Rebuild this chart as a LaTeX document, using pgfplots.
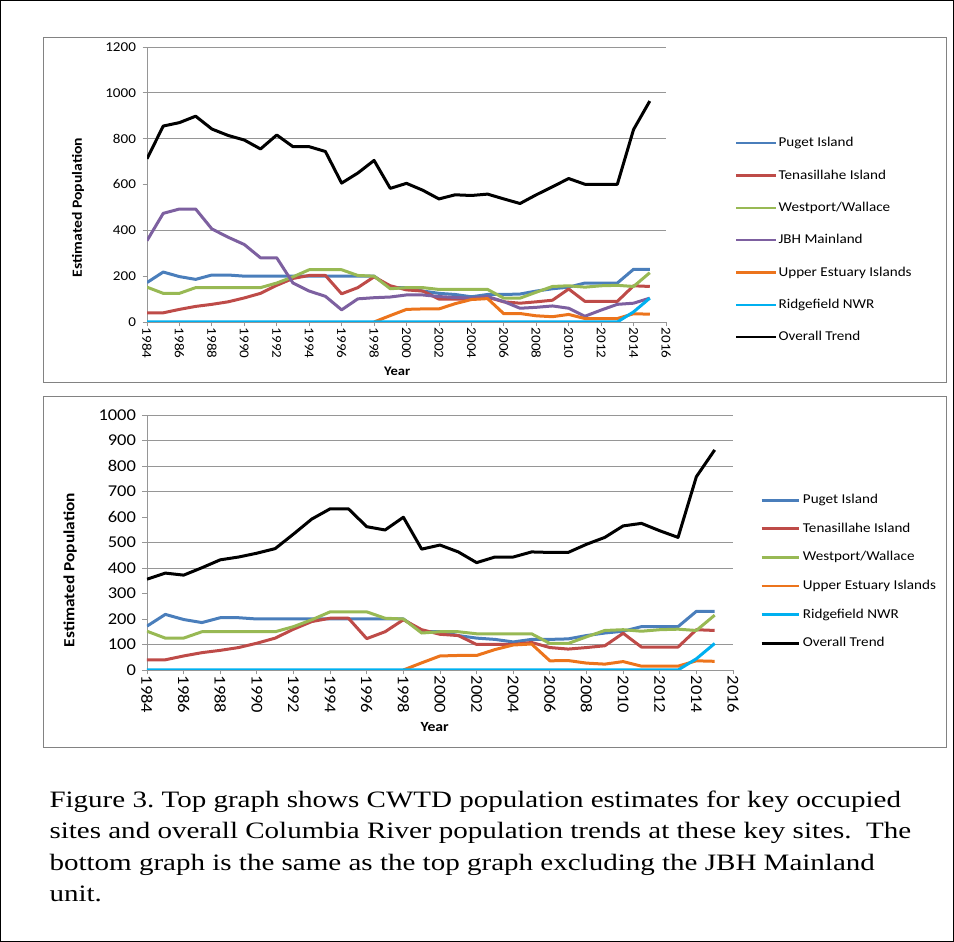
\documentclass[border=0pt]{standalone}
\usepackage{fontspec}
\usepackage{pgfplots}
\usepackage{pgfplotstable}
\pgfplotsset{compat=1.18}
\setmainfont{Liberation Serif}
\newfontfamily\cf[FakeStretch=1.12]{Carlito}
\newfontfamily\capfont[FakeStretch=1.235]{Liberation Serif}
\definecolor{cpuget}{RGB}{74,126,187}
\definecolor{ctena}{RGB}{190,75,72}
\definecolor{cwest}{RGB}{152,185,84}
\definecolor{cjbh}{RGB}{125,96,160}
\definecolor{cupper}{RGB}{236,116,28}
\definecolor{cridge}{RGB}{0,176,240}
\definecolor{gridgray}{RGB}{150,150,150}
\definecolor{boxgray}{RGB}{130,130,130}

\pgfplotstableread{
year puget tena west jbh upper ridge overall overallb
1984 172 40 152 355 nan 0 712 356
1985 218 40 125 474 nan 0 855 380
1986 198 55 125 493 nan 0 870 372
1987 186 68 150 493 nan 0 898 401
1988 205 77 150 406 nan 0 842 432
1989 205 88 150 370 nan 0 814 443
1990 200 105 150 338 nan 0 794 458
1991 200 125 150 280 nan 0 755 476
1992 200 160 170 280 nan 0 816 533
1993 200 190 197 170 nan 0 765 592
1994 200 203 228 135 nan 0 765 632
1995 200 203 228 112 nan 0 744 632
1996 200 123 228 53 nan 0 606 562
1997 200 150 203 101 nan 0 650 549
1998 200 197 200 106 0 0 705 599
1999 150 158 145 109 28 0 583 474
2000 150 140 150 118 55 0 605 490
2001 135 135 150 118 57 0 575 463
2002 125 100 142 111 57 0 537 421
2003 120 100 142 107 80 0 555 443
2004 110 100 142 104 98 0 552 443
2005 120 108 142 111 102 0 558 463
2006 120 88 104 89 36 0 537 461
2007 122 82 104 60 37 0 517 461
2008 135 88 130 64 27 0 555 493
2009 145 95 155 70 23 0 590 520
2010 152 144 158 60 33 0 626 565
2011 170 90 152 25 15 0 601 575
2012 170 90 158 52 15 0 601 546
2013 170 90 160 77 15 0 601 520
2014 230 158 155 82 36 44 840 758
2015 230 155 215 104 34 104 964 863
}\data

\pgfplotsset{
  ln/.style={line width=3pt, line join=round},
  cwtd/.style={
    scale only axis,
    anchor=south west,
    xmin=1984, xmax=2016,
    xtick={1984,1986,...,2016},
    /pgf/number format/1000 sep={},
    /pgf/number format/assume math mode=true,
    axis x line*=bottom, axis y line*=left,
    axis line style={-, draw=gridgray, line width=0.8pt},
    every outer x axis line/.append style={-},
    every outer y axis line/.append style={-},
    tick align=outside,
    major tick length=4.5pt,
    tick style={draw=gridgray, line width=0.8pt},
    xticklabel style={rotate=-90, anchor=west, inner sep=1pt},
    extra y tick labels={},
    extra y tick style={grid=major, major tick length=0pt},
    major grid style={draw=gridgray, line width=0.8pt},
    legend cell align=left,
    legend image code/.code={\draw[#1, line width=2.4pt] (0pt,0pt) -- (40pt,0pt);},
  }
}

\begin{document}
\begin{tikzpicture}
\useasboundingbox (0pt,0pt) rectangle (954pt,942pt);
\draw[black, line width=1pt] (0.5pt,0.5pt) rectangle (953.5pt,941.5pt);
\draw[boxgray, line width=1pt] (43pt,904pt) rectangle (946pt,559pt);
\draw[boxgray, line width=1pt] (43pt,545pt) rectangle (946pt,194pt);

% ---------- top chart ----------
\begin{axis}[cwtd,
  at={(147pt,620pt)}, width=519pt, height=275pt,
  ymin=0, ymax=1200, ytick={0,200,...,1200},
  extra y ticks={400,800,1000,1200},
  tick label style={font=\cf\fontsize{13.5}{14}\selectfont},
  yticklabel style={xshift=-3pt},
  ylabel={Estimated Population},
  ylabel style={at={(axis description cs:-0.133,0.416)}, anchor=center, font=\cf\bfseries\fontsize{14}{16}\selectfont},
  xlabel={Year},
  xlabel style={at={(axis description cs:0.482,-0.178)}, anchor=center, font=\cf\bfseries\fontsize{13}{15}\selectfont},
  legend style={at={(axis description cs:1.133,0.6745)}, anchor=north west, draw=none, fill=none,
    inner sep=0pt, row sep=19.33pt, column sep=0pt,
    font=\cf\fontsize{13.5}{15}\selectfont,
    nodes={inner sep=1pt, text height=9pt, text depth=2pt}},
]
\addplot[cpuget, ln] table[x=year,y=puget]{\data};
\addlegendentry{Puget Island}
\addplot[ctena, ln] table[x=year,y=tena]{\data};
\addlegendentry{Tenasillahe Island}
\addplot[cwest, ln] table[x=year,y=west]{\data};
\addlegendentry{Westport/Wallace}
\addplot[cjbh, ln] table[x=year,y=jbh]{\data};
\addlegendentry{JBH Mainland}
\addplot[cupper, ln] table[x=year,y=upper]{\data};
\addlegendentry{Upper Estuary Islands}
\addplot[cridge, ln] table[x=year,y=ridge]{\data};
\addlegendentry{Ridgefield NWR}
\addplot[black, ln] table[x=year,y=overall]{\data};
\addlegendentry{Overall Trend}
\end{axis}

% ---------- bottom chart ----------
\begin{axis}[cwtd,
  at={(147pt,272pt)}, width=586pt, height=255pt,
  ymin=0, ymax=1000, ytick={0,100,...,1000},
  extra y ticks={100,400,500,700,800,900,1000},
  tick label style={font=\cf\fontsize{16.5}{17}\selectfont},
  yticklabel style={xshift=-3pt},
  ylabel={Estimated Population},
  ylabel style={at={(axis description cs:-0.131,0.392)}, anchor=center, font=\cf\bfseries\fontsize{15.5}{17}\selectfont},
  xlabel={Year},
  xlabel style={at={(axis description cs:0.491,-0.224)}, anchor=center, font=\cf\bfseries\fontsize{14}{16}\selectfont},
  legend style={at={(axis description cs:1.046,0.692)}, anchor=north west, draw=none, fill=none,
    inner sep=0pt, row sep=15.6pt, column sep=2pt,
    font=\cf\fontsize{13.5}{15}\selectfont,
    nodes={inner sep=1pt, text height=9pt, text depth=2pt}},
  legend image code/.code={\draw[#1, line width=2.8pt] (0pt,0pt) -- (37pt,0pt);},
]
\addplot[cpuget, ln] table[x=year,y=puget]{\data};
\addlegendentry{Puget Island}
\addplot[ctena, ln] table[x=year,y=tena]{\data};
\addlegendentry{Tenasillahe Island}
\addplot[cwest, ln] table[x=year,y=west]{\data};
\addlegendentry{Westport/Wallace}
\addplot[cupper, ln] table[x=year,y=upper]{\data};
\addlegendentry{Upper Estuary Islands}
\addplot[cridge, ln] table[x=year,y=ridge]{\data};
\addlegendentry{Ridgefield NWR}
\addplot[black, ln] table[x=year,y=overallb]{\data};
\addlegendentry{Overall Trend}
\end{axis}

% ---------- caption ----------
\begin{scope}[every node/.style={anchor=base west, inner sep=0pt, font=\capfont\frenchspacing\fontsize{23.5}{28}\selectfont}]
\node at (49.3pt,134.3pt) {Figure 3. Top graph shows CWTD population estimates for key occupied};
\node at (49.3pt,103.0pt) {sites and overall Columbia River population trends at these key sites.\ \ The};
\node at (49.3pt,71.7pt) {bottom graph is the same as the top graph excluding the JBH Mainland};
\node at (49.3pt,40.3pt) {unit.};
\end{scope}
\end{tikzpicture}
\end{document}
